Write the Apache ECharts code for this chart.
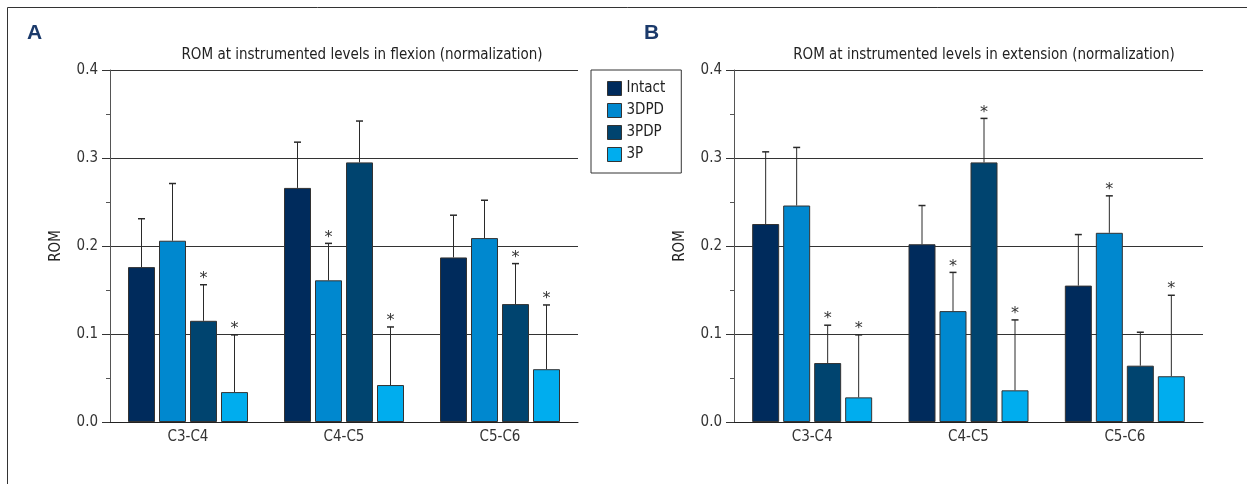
<!DOCTYPE html>
<html>
<head>
<meta charset="utf-8">
<script src="https://cdn.jsdelivr.net/npm/echarts@6/dist/echarts.min.js"></script>
<style>html,body{margin:0;padding:0;background:#fff;}#c{width:1247px;height:484px;}</style>
</head>
<body>
<div id="c"></div>
<script>
// ---- data ----
const categories = ['C3-C4', 'C4-C5', 'C5-C6'];
const seriesNames = ['Intact', '3DPD', '3PDP', '3P'];
const yTicks = [0.0, 0.1, 0.2, 0.3, 0.4];

// Flexion (panel A): means, upper end of error bar, significance star
const flexIntact = [0.176, 0.266, 0.187];
const flexIntactUp = [0.231, 0.318, 0.235];
const flexIntactSig = [0, 0, 0];
const flex3DPD = [0.206, 0.161, 0.209];
const flex3DPDUp = [0.271, 0.203, 0.252];
const flex3DPDSig = [0, 1, 0];
const flex3PDP = [0.115, 0.295, 0.134];
const flex3PDPUp = [0.156, 0.342, 0.180];
const flex3PDPSig = [1, 0, 1];
const flex3P = [0.034, 0.042, 0.060];
const flex3PUp = [0.099, 0.108, 0.133];
const flex3PSig = [1, 1, 1];

// Extension (panel B)
const extIntact = [0.225, 0.202, 0.155];
const extIntactUp = [0.307, 0.246, 0.213];
const extIntactSig = [0, 0, 0];
const ext3DPD = [0.246, 0.126, 0.215];
const ext3DPDUp = [0.312, 0.170, 0.257];
const ext3DPDSig = [0, 1, 1];
const ext3PDP = [0.067, 0.295, 0.064];
const ext3PDPUp = [0.110, 0.345, 0.102];
const ext3PDPSig = [1, 1, 0];
const ext3P = [0.028, 0.036, 0.052];
const ext3PUp = [0.099, 0.116, 0.144];
const ext3PSig = [1, 1, 1];

// ---- style ----
const colors = ['#002b5c', '#0088cf', '#00446f', '#00adee'];
const FONT = "'Liberation Sans Narrow','DejaVu Sans Condensed','Roboto Condensed',sans-serif";
const BAR_W = 27, BAR_GAP = 4;

const panels = [
  { means: [flexIntact, flex3DPD, flex3PDP, flex3P],
    ups: [flexIntactUp, flex3DPDUp, flex3PDPUp, flex3PUp],
    sigs: [flexIntactSig, flex3DPDSig, flex3PDPSig, flex3PSig] },
  { means: [extIntact, ext3DPD, ext3PDP, ext3P],
    ups: [extIntactUp, ext3DPDUp, ext3PDPUp, ext3PUp],
    sigs: [extIntactSig, ext3DPDSig, ext3PDPSig, ext3PSig] }
];

const grids = [
  { left: 110, right: 669, top: 70, bottom: 62 },
  { left: 734, right: 44, top: 70, bottom: 62 }
];

const xAxes = grids.map((g, i) => ({
  type: 'category', gridIndex: i, data: categories,
  axisLine: { lineStyle: { color: '#222', width: 1 } },
  axisTick: { alignWithLabel: true, length: 7, lineStyle: { color: '#222' } },
  axisLabel: { color: '#333', fontFamily: FONT, fontSize: 15, margin: 8 }
}));

const yAxes = grids.map((g, i) => ({
  type: 'value', gridIndex: i, min: 0, max: 0.4, interval: 0.1,
  name: 'ROM', nameLocation: 'middle', nameGap: 46, nameRotate: 90,
  nameTextStyle: { color: '#222', fontFamily: FONT, fontSize: 15 },
  axisLine: { show: true, lineStyle: { color: '#555', width: 1 } },
  axisTick: { show: true, length: 8, lineStyle: { color: '#333' } },
  minorTick: { show: true, splitNumber: 2, length: 4, lineStyle: { color: '#555' } },
  splitLine: { show: true, lineStyle: { color: '#333', width: 1 } },
  axisLabel: { color: '#333', fontFamily: FONT, fontSize: 15, margin: 12,
    formatter: v => yTicks.find(t => Math.abs(t - v) < 1e-9).toFixed(1) }
}));

const series = [];
panels.forEach((p, gi) => {
  seriesNames.forEach((name, si) => {
    series.push({
      type: 'bar', name, xAxisIndex: gi, yAxisIndex: gi,
      data: p.means[si], barWidth: BAR_W, barGap: (BAR_GAP / BAR_W * 100) + '%',
      itemStyle: { color: colors[si], borderColor: '#333', borderWidth: 1 }
    });
  });
  seriesNames.forEach((name, si) => {
    series.push({
      type: 'custom', name: name + '_err', xAxisIndex: gi, yAxisIndex: gi, z: 3,
      encode: { x: 0, y: [1, 2] },
      data: p.means[si].map((m, ci) => [ci, m, p.ups[si][ci], p.sigs[si][ci]]),
      renderItem: function (params, api) {
        const ci = api.value(0);
        const base = api.coord([ci, api.value(1)]);
        const top = api.coord([ci, api.value(2)]);
        const x = base[0] + (si - 1.5) * (BAR_W + BAR_GAP);
        const children = [
          { type: 'line', shape: { x1: x, y1: base[1], x2: x, y2: top[1] },
            style: { stroke: '#2a2a2a', lineWidth: 1 } },
          { type: 'line', shape: { x1: x - 3.5, y1: top[1], x2: x + 3.5, y2: top[1] },
            style: { stroke: '#2a2a2a', lineWidth: 1.5 } }
        ];
        if (api.value(3)) {
          children.push({ type: 'text', x: x, y: top[1] + 2,
            style: { text: '*', fill: '#333', fontSize: 16, fontFamily: 'DejaVu Sans',
              align: 'center', verticalAlign: 'bottom' } });
        }
        return { type: 'group', children };
      }
    });
  });
});

const chart = echarts.init(document.getElementById('c'), null, { renderer: 'canvas' });
chart.setOption({
  animation: false,
  backgroundColor: '#fff',
  grid: grids,
  xAxis: xAxes,
  yAxis: yAxes,
  legend: {
    data: seriesNames, orient: 'vertical', left: 591, top: 70,
    padding: [11, 16, 11, 16], itemWidth: 14, itemHeight: 14, itemGap: 7,
    borderColor: '#333', borderWidth: 1, icon: 'rect',
    itemStyle: { borderColor: '#333', borderWidth: 1 },
    textStyle: { color: '#222', fontFamily: FONT, fontSize: 15 },
    selectedMode: false
  },
  graphic: [
    { type: 'polyline', shape: { points: [[7.5, 484], [7.5, 7.5], [1247, 7.5]] },
      style: { stroke: '#333', lineWidth: 1, fill: null } },
    { type: 'text', left: 27, top: 23, style: { text: 'A', fill: '#1b3a6b',
      font: "bold 21px 'Liberation Sans', sans-serif" } },
    { type: 'text', left: 644, top: 23, style: { text: 'B', fill: '#1b3a6b',
      font: "bold 21px 'Liberation Sans', sans-serif" } },
    { type: 'text', x: 362, y: 55, style: { text: 'ROM at instrumented levels in flexion (normalization)',
      fill: '#222', fontFamily: FONT, fontSize: 15, align: 'center', verticalAlign: 'middle' } },
    { type: 'text', x: 984, y: 55, style: { text: 'ROM at instrumented levels in extension (normalization)',
      fill: '#222', fontFamily: FONT, fontSize: 15, align: 'center', verticalAlign: 'middle' } }
  ],
  series
});
</script>
</body>
</html>
